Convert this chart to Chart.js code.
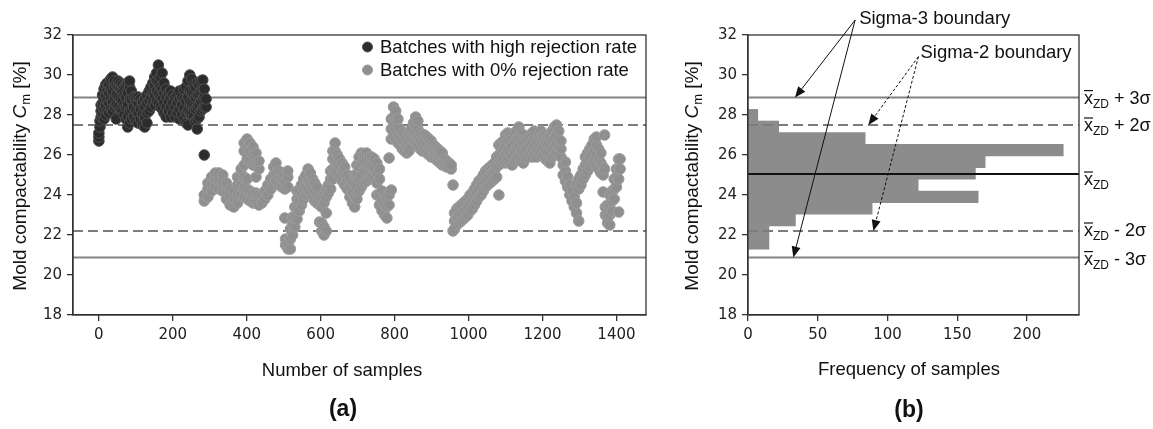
<!DOCTYPE html>
<html>
<head>
<meta charset="utf-8">
<script src="https://cdn.jsdelivr.net/npm/chart.js@4.4.1/dist/chart.umd.min.js"></script>
<style>
  html, body { margin: 0; padding: 0; background: #fff; }
  #wrap { position: relative; width: 1153px; height: 429px; overflow: hidden; }
  #scatterCanvas { position: absolute; left: 0; top: 0; }
  #histCanvas { position: absolute; left: 680px; top: 0; }
</style>
</head>
<body>
<div id="wrap">
  <canvas id="scatterCanvas" width="680" height="429"></canvas>
  <canvas id="histCanvas" width="473" height="429"></canvas>
</div>
<script>
// ---- values ----
// each row: [sample number, Cm values seen around that sample...]
const highRows = [
  [0, 26.7, 26.9, 27.1], [3, 27.4, 27.7], [6, 27.9, 28.2, 28.5], [10, 28.0, 28.6, 29.0],
  [14, 27.8, 28.3, 28.8, 29.3], [18, 28.0, 28.5, 29.0, 29.5], [22, 28.2, 28.7, 29.2, 29.6],
  [27, 28.1, 28.6, 29.1, 29.5], [32, 28.3, 28.8, 29.3, 29.8], [37, 28.2, 28.7, 29.2, 29.9],
  [42, 28.4, 28.9, 29.4, 29.7], [47, 27.8, 28.5, 29.0, 29.5], [52, 28.4, 28.9, 29.4, 29.7],
  [58, 28.3, 28.8, 29.3, 29.6], [63, 28.2, 28.7, 29.2, 29.5], [68, 28.0, 28.5, 29.0, 29.4],
  [73, 27.8, 28.4, 28.9, 29.5], [78, 27.4, 27.9, 28.5, 29.1, 29.6], [83, 27.6, 28.2, 28.8, 29.4, 29.7],
  [88, 27.8, 28.3, 28.8, 29.2], [94, 27.9, 28.4, 28.9], [100, 27.7, 28.2, 28.7, 28.9],
  [106, 27.6, 28.1, 28.6, 28.9], [112, 27.8, 28.3, 28.8], [118, 27.5, 28.0, 28.5, 28.7],
  [124, 27.4, 27.9, 28.4, 28.8], [130, 27.6, 28.1, 28.6, 29.0], [136, 28.2, 28.7, 29.2],
  [141, 28.4, 28.9, 29.4], [146, 28.6, 29.1, 29.6], [151, 28.5, 29.0, 29.5, 29.9],
  [156, 28.7, 29.2, 29.7, 30.1], [161, 28.6, 29.1, 29.6, 30.5], [166, 28.4, 28.9, 29.4, 29.9],
  [171, 28.3, 28.8, 29.3, 30.1], [176, 28.1, 28.6, 29.1, 29.6], [182, 27.9, 28.4, 28.9, 29.3],
  [188, 28.2, 28.7, 29.1], [194, 27.9, 28.4, 28.9, 29.2], [200, 28.1, 28.6, 29.0],
  [206, 27.9, 28.4, 28.9], [212, 28.1, 28.6, 29.0], [218, 27.8, 28.3, 28.8, 29.2],
  [224, 28.0, 28.5, 28.9], [230, 27.8, 28.3, 28.8, 29.3], [236, 27.6, 28.1, 28.7, 29.4],
  [241, 27.5, 28.2, 28.9, 29.7], [246, 28.1, 28.6, 29.2, 30.0], [251, 28.0, 28.5, 29.1, 29.8],
  [256, 27.9, 28.4, 29.0, 29.5], [261, 27.7, 28.3, 28.9, 29.4], [266, 27.3, 27.8, 28.4, 29.0, 29.6],
  [271, 27.9, 28.5, 29.0, 29.5], [276, 28.2, 28.7, 29.2, 29.7], [281, 28.3, 28.8, 29.3, 29.75],
  [285, 26.0, 28.4, 28.9, 29.3], [290, 28.4, 28.8]
];

const zeroRows = [
  [285, 23.7, 24.0], [295, 23.9, 24.3, 24.6], [305, 24.2, 24.6, 24.9], [315, 24.4, 24.8, 25.1],
  [325, 24.3, 24.7, 25.1], [335, 24.2, 24.6, 25.0], [345, 23.8, 24.2, 24.6], [355, 23.5, 23.9, 24.3],
  [365, 23.4, 23.8, 24.2], [375, 23.6, 24.0, 24.5, 24.9], [385, 24.0, 24.5, 25.0, 25.3],
  [393, 23.9, 24.4, 24.9, 25.5, 26.2, 26.6], [401, 23.8, 24.3, 24.8, 25.8, 26.4, 26.8],
  [409, 23.7, 24.2, 25.7, 26.2, 26.6], [417, 23.6, 24.1, 25.5, 26.0, 26.4],
  [425, 23.6, 24.1, 24.9, 25.6, 26.1], [433, 23.5, 24.0, 25.3, 25.7], [441, 23.6, 24.0],
  [449, 23.8, 24.2], [457, 24.0, 24.5], [465, 24.3, 24.8], [473, 24.5, 25.0, 25.4],
  [479, 24.7, 25.1, 25.6], [487, 24.5, 24.9, 25.2], [495, 24.4, 24.8, 25.1],
  [503, 22.85, 24.3, 24.7, 25.0], [505, 21.5, 21.8], [511, 24.4, 24.9, 25.2], [512, 21.3, 21.6],
  [518, 21.3, 21.8, 22.3], [524, 22.0, 22.5, 22.9], [530, 22.4, 22.9, 23.4],
  [536, 22.8, 23.3, 23.8, 24.2], [542, 23.2, 23.7, 24.2], [548, 23.5, 24.0, 24.5],
  [554, 23.8, 24.3, 24.8], [560, 24.0, 24.5, 25.0], [566, 24.2, 24.7, 25.3], [572, 24.1, 24.6, 25.1],
  [578, 23.9, 24.4, 24.8], [584, 23.7, 24.2, 24.6], [590, 23.6, 24.0, 24.4], [597, 22.65, 23.5, 23.9],
  [603, 22.2, 22.6, 23.4, 23.9], [609, 22.0, 22.4, 23.6, 24.0], [615, 22.2, 23.1, 23.9, 24.3],
  [621, 24.1, 24.5], [627, 24.3, 24.8, 25.2], [633, 24.8, 25.3, 25.8, 26.2],
  [639, 25.2, 25.7, 26.2, 26.6], [645, 25.1, 25.6, 26.0], [651, 24.9, 25.4, 25.8],
  [658, 24.7, 25.2, 25.6], [665, 24.5, 25.0, 25.4], [672, 24.3, 24.8, 25.0], [679, 23.9, 24.4, 24.8],
  [686, 23.6, 24.1, 24.6], [692, 23.4, 23.9, 24.5, 25.0], [698, 23.8, 24.4, 25.0, 25.5],
  [704, 24.2, 24.8, 25.4, 25.9], [710, 24.4, 25.0, 25.6, 26.1], [717, 24.6, 25.2, 25.7, 26.0],
  [724, 24.7, 25.3, 25.8, 26.1], [731, 24.8, 25.4, 25.9], [738, 24.9, 25.4, 25.9],
  [745, 24.8, 25.3, 25.8], [752, 24.0, 24.6, 25.1, 25.6], [759, 23.5, 24.0, 24.8, 25.3],
  [766, 23.2, 23.7, 24.2], [773, 23.0, 23.5, 24.0], [779, 22.85, 23.4, 23.9], [785, 23.5, 24.0, 25.85],
  [791, 24.25, 26.8, 27.3, 27.8], [797, 26.9, 27.4, 27.9, 28.4], [803, 26.8, 27.3, 27.8, 28.2],
  [809, 26.6, 27.0, 27.4, 27.8], [815, 26.5, 26.9, 27.3], [821, 26.3, 26.7, 27.1],
  [827, 26.2, 26.6, 27.0], [833, 26.1, 26.5, 26.9], [839, 26.2, 26.6, 27.0], [845, 26.5, 26.9, 27.3],
  [851, 26.7, 27.1, 27.6], [857, 26.6, 27.0, 27.5, 27.9], [863, 26.5, 26.9, 27.3, 27.7],
  [869, 26.3, 26.7, 27.1], [875, 26.2, 26.6, 27.0], [881, 26.3, 26.7, 27.0], [887, 26.1, 26.5, 26.9],
  [893, 26.0, 26.4, 26.8], [899, 25.9, 26.3, 26.7], [905, 25.9, 26.2, 26.5], [911, 25.8, 26.1, 26.4],
  [917, 25.7, 26.0, 26.3], [923, 25.6, 25.9, 26.2], [929, 25.5, 25.8, 26.1], [935, 25.5, 25.8],
  [941, 25.4, 25.7], [947, 25.4, 25.6], [953, 25.3, 25.5], [958, 24.5, 22.2],
  [962, 22.3, 22.7, 23.1], [968, 22.5, 22.9, 23.3], [974, 22.6, 23.0, 23.4], [980, 22.7, 23.1, 23.5],
  [986, 22.8, 23.2, 23.6], [992, 22.9, 23.3, 23.7], [998, 23.0, 23.4, 23.8], [1004, 23.2, 23.6, 24.0],
  [1010, 23.3, 23.7, 24.1], [1016, 23.5, 23.9, 24.3], [1022, 23.7, 24.1, 24.5], [1028, 23.9, 24.3, 24.7],
  [1034, 24.0, 24.4, 24.8], [1040, 24.2, 24.6, 25.0], [1046, 24.4, 24.8, 25.2], [1052, 24.5, 24.9, 25.3],
  [1058, 24.6, 25.0, 25.4], [1064, 24.7, 25.1, 25.5], [1070, 24.8, 25.2, 25.6], [1076, 24.9, 25.4, 25.9],
  [1082, 24.0, 25.5, 26.0, 26.5], [1088, 25.6, 26.1, 26.6], [1094, 25.7, 26.2, 26.7],
  [1100, 25.6, 26.1, 26.6, 27.0], [1106, 25.7, 26.2, 26.7, 27.1], [1112, 25.6, 26.1, 26.6, 27.0],
  [1118, 25.5, 26.0, 26.5, 26.9], [1124, 25.7, 26.2, 26.7, 27.1], [1130, 25.8, 26.3, 26.8, 27.2],
  [1136, 25.9, 26.4, 26.9, 27.4], [1142, 25.7, 26.2, 26.7, 27.1], [1148, 25.6, 26.1, 26.6, 27.0],
  [1154, 25.8, 26.3, 26.8], [1160, 25.9, 26.4, 26.8], [1166, 26.0, 26.5, 26.9],
  [1172, 25.9, 26.3, 26.7, 27.1], [1178, 26.0, 26.4, 26.8, 27.2], [1184, 25.9, 26.3, 26.7],
  [1190, 26.0, 26.4, 26.8, 27.0], [1196, 26.1, 26.5, 26.9, 27.2], [1202, 26.0, 26.4, 26.8, 27.0],
  [1208, 25.8, 26.2, 26.6, 27.0], [1214, 25.7, 26.1, 26.5, 26.9], [1220, 25.6, 26.0, 26.4, 26.9],
  [1226, 25.9, 26.3, 26.8, 27.2], [1232, 26.0, 26.4, 26.9, 27.4], [1238, 26.1, 26.5, 27.0, 27.5],
  [1244, 26.0, 26.4, 26.8, 27.2], [1250, 25.9, 26.3, 26.7], [1256, 25.0, 25.5],
  [1262, 24.7, 25.2, 25.65], [1268, 24.4, 24.9], [1274, 24.0, 24.5], [1280, 23.7, 24.2],
  [1286, 23.4, 23.9], [1292, 23.1, 23.6, 24.5], [1298, 22.7, 24.3, 24.8], [1304, 24.5, 25.0],
  [1310, 24.8, 25.3], [1316, 25.0, 25.5, 25.9], [1322, 25.2, 25.7, 26.1], [1328, 25.4, 25.9, 26.3],
  [1334, 25.6, 26.1, 26.5], [1340, 25.7, 26.2, 26.8], [1346, 25.5, 26.0, 26.5, 26.9],
  [1352, 25.3, 25.8, 26.3], [1358, 25.1, 25.6, 26.1], [1364, 24.15, 25.0, 25.4], [1368, 25.3, 27.0],
  [1370, 23.0, 23.4], [1376, 22.6, 23.0, 23.5], [1382, 22.5, 23.0, 23.5, 24.0],
  [1388, 23.2, 23.7, 24.2], [1394, 23.8, 24.3, 24.8], [1400, 24.4, 24.9, 25.3],
  [1406, 23.15, 24.8, 25.3, 25.8], [1410, 25.3, 25.8]
];

// histogram of the 0% rejection batches (bin centres in Cm %, counts)
const binCentres = [21.58, 22.16, 22.74, 23.33, 23.91, 24.49, 25.08, 25.66, 26.24, 26.83, 27.41, 27.99];
const binCounts = [15, 15, 34, 89, 165, 122, 163, 170, 226, 84, 22, 7];

const sigma3Lines = [28.87, 20.87];
const sigma2Lines = [27.5, 22.2];
const meanLine = 25.05;

const cmTicks = [18, 20, 22, 24, 26, 28, 30, 32];
const sampleTicks = [0, 200, 400, 600, 800, 1000, 1200, 1400];
const freqTicks = [0, 50, 100, 150, 200];

const limitValues = [28.87, 27.5, 25.05, 22.2, 20.87];
const limitSuffix = [' + 3σ', ' + 2σ', '', ' - 2σ', ' - 3σ'];

// annotation arrows in histogram data coords: [count, Cm]
const sigma3Start = [76.8, 32.75];
const sigma3Tips = [[33.7, 28.87], [32.5, 20.87]];
const sigma2Start = [122.2, 30.92];
const sigma2Tips = [[86.3, 27.5], [89.9, 22.2]];

// ---- helpers ----
const SANS = '"Liberation Sans", Arial, sans-serif';
const TICKFONT = { family: '"DejaVu Sans", sans-serif', size: 15 };

function rowsToPoints(rows) {
  let pts = [];
  for (let r of rows) {
    for (let i = 1; i < r.length; i++) pts.push({ x: r[0], y: r[i] });
  }
  return pts;
}

function setTicks(list) {
  return function (scale) { scale.ticks = list.map(v => ({ value: v })); };
}

function hLine(ctx, area, y, color, width, dash) {
  ctx.save();
  ctx.strokeStyle = color;
  ctx.lineWidth = width;
  ctx.setLineDash(dash);
  ctx.beginPath();
  ctx.moveTo(area.left, y);
  ctx.lineTo(area.right, y);
  ctx.stroke();
  ctx.restore();
}

function drawLimits(chart, withMean) {
  const { ctx, chartArea } = chart;
  const ys = chart.scales.y;
  for (let v of sigma3Lines) hLine(ctx, chartArea, ys.getPixelForValue(v), '#828282', 2, []);
  for (let v of sigma2Lines) hLine(ctx, chartArea, ys.getPixelForValue(v), '#7c7c7c', 2, [10, 5]);
  if (withMean) hLine(ctx, chartArea, ys.getPixelForValue(meanLine), '#111', 2, []);
}

function drawBox(chart) {
  const { ctx, chartArea: a } = chart;
  ctx.save();
  ctx.strokeStyle = '#333';
  ctx.lineWidth = 1.3;
  ctx.strokeRect(a.left, a.top, a.right - a.left, a.bottom - a.top);
  ctx.restore();
}

function drawYTitle(ctx, x, yCenter) {
  const parts = [
    ['Mold compactability ', '19px ' + SANS, 0],
    ['C', 'italic 19px ' + SANS, 0],
    ['m', '13px ' + SANS, 4],
    [' [%]', '19px ' + SANS, 0]
  ];
  ctx.save();
  ctx.translate(x, yCenter);
  ctx.rotate(-Math.PI / 2);
  ctx.fillStyle = '#111';
  ctx.textBaseline = 'alphabetic';
  let total = 0;
  for (let p of parts) { ctx.font = p[1]; total += ctx.measureText(p[0]).width; }
  let pos = -total / 2;
  for (let p of parts) {
    ctx.font = p[1];
    ctx.fillText(p[0], pos, p[2]);
    pos += ctx.measureText(p[0]).width;
  }
  ctx.restore();
}

function drawCentered(ctx, text, font, x, y) {
  ctx.save();
  ctx.font = font;
  ctx.fillStyle = '#111';
  ctx.textAlign = 'center';
  ctx.textBaseline = 'alphabetic';
  ctx.fillText(text, x, y);
  ctx.restore();
}

function arrow(ctx, x0, y0, x1, y1, dash) {
  const ang = Math.atan2(y1 - y0, x1 - x0);
  const len = 11, half = 4.5;
  const bx = x1 - len * Math.cos(ang), by = y1 - len * Math.sin(ang);
  ctx.save();
  ctx.strokeStyle = '#111';
  ctx.fillStyle = '#111';
  ctx.lineWidth = 1;
  ctx.setLineDash(dash);
  ctx.beginPath();
  ctx.moveTo(x0, y0);
  ctx.lineTo(bx, by);
  ctx.stroke();
  ctx.setLineDash([]);
  ctx.beginPath();
  ctx.moveTo(x1, y1);
  ctx.lineTo(bx + half * Math.sin(ang), by - half * Math.cos(ang));
  ctx.lineTo(bx - half * Math.sin(ang), by + half * Math.cos(ang));
  ctx.closePath();
  ctx.fill();
  ctx.restore();
}

function axisOpts(min, max, ticks, fitKey, fitSize) {
  return {
    type: 'linear', min: min, max: max,
    afterBuildTicks: setTicks(ticks),
    afterFit: function (scale) { scale[fitKey] = fitSize; },
    grid: { display: true, drawOnChartArea: false, drawTicks: true, tickLength: 6, color: '#333', lineWidth: 1.3 },
    border: { display: true, color: '#333', width: 1.3 },
    ticks: { font: TICKFONT, color: '#222', padding: 5, maxRotation: 0, autoSkip: false,
             callback: v => String(v) }
  };
}

// ---- chart (a) ----
const scatterPlugin = {
  id: 'scatterExtras',
  beforeDatasetsDraw(chart) { drawLimits(chart, false); },
  afterDraw(chart) {
    const ctx = chart.ctx;
    drawBox(chart);
    drawYTitle(ctx, 26, 176);
    drawCentered(ctx, 'Number of samples', '18.5px ' + SANS, 342, 376);
    drawCentered(ctx, '(a)', 'bold 23px ' + SANS, 343, 416);
    // legend
    const items = chart.data.datasets;
    const rows = [47, 70];
    items.forEach((ds, i) => {
      ctx.save();
      ctx.beginPath();
      ctx.arc(367.5, rows[i], 5, 0, Math.PI * 2);
      ctx.fillStyle = ds.backgroundColor;
      ctx.fill();
      ctx.lineWidth = 1;
      ctx.strokeStyle = ds.borderColor;
      ctx.stroke();
      ctx.font = '18.5px ' + SANS;
      ctx.fillStyle = '#111';
      ctx.textBaseline = 'middle';
      ctx.fillText(ds.label, 380, rows[i] + 1);
      ctx.restore();
    });
  }
};

new Chart(document.getElementById('scatterCanvas'), {
  type: 'scatter',
  data: {
    datasets: [
      { label: 'Batches with high rejection rate', data: rowsToPoints(highRows),
        backgroundColor: '#2c2c2c', borderColor: '#4f4f4f', borderWidth: 1, pointRadius: 5.3 },
      { label: 'Batches with 0% rejection rate', data: rowsToPoints(zeroRows),
        backgroundColor: '#8f8f8f', borderColor: '#9c9c9c', borderWidth: 1, pointRadius: 5.3 }
    ]
  },
  options: {
    responsive: false, animation: false, devicePixelRatio: 1,
    layout: { padding: { left: 0, right: 34, top: 35, bottom: 0 } },
    plugins: { legend: { display: false }, tooltip: { enabled: false } },
    scales: {
      x: axisOpts(-70, 1480, sampleTicks, 'height', 114),
      y: axisOpts(18, 32, cmTicks, 'width', 73)
    }
  },
  plugins: [scatterPlugin]
});

// ---- chart (b) ----
const histPlugin = {
  id: 'histExtras',
  afterDatasetsDraw(chart) { drawLimits(chart, true); },
  afterDraw(chart) {
    const ctx = chart.ctx;
    const xs = chart.scales.x, ys = chart.scales.y;
    drawBox(chart);
    drawYTitle(ctx, 18, 176);
    drawCentered(ctx, 'Frequency of samples', '18.5px ' + SANS, 229, 375);
    drawCentered(ctx, '(b)', 'bold 23px ' + SANS, 229, 417);

    // right-hand labels
    const offs = [6, 6, 11, 5, 7];
    limitValues.forEach((v, i) => {
      const y = ys.getPixelForValue(v) + offs[i];
      let x = chart.chartArea.right + 5;
      ctx.save();
      ctx.fillStyle = '#111';
      ctx.strokeStyle = '#111';
      ctx.textBaseline = 'alphabetic';
      ctx.font = '18px ' + SANS;
      const wx = ctx.measureText('x').width;
      ctx.fillText('x', x, y);
      ctx.lineWidth = 1.2;
      ctx.beginPath();
      ctx.moveTo(x, y - 13);
      ctx.lineTo(x + wx, y - 13);
      ctx.stroke();
      x += wx;
      ctx.font = '12px ' + SANS;
      ctx.fillText('ZD', x, y + 4);
      x += ctx.measureText('ZD').width;
      ctx.font = '18px ' + SANS;
      ctx.fillText(limitSuffix[i], x, y);
      ctx.restore();
    });

    // annotations
    ctx.save();
    ctx.font = '18.5px ' + SANS;
    ctx.fillStyle = '#111';
    ctx.fillText('Sigma-3 boundary', xs.getPixelForValue(sigma3Start[0]) + 4, 24);
    ctx.fillText('Sigma-2 boundary', xs.getPixelForValue(sigma2Start[0]) + 2, 58);
    ctx.restore();
    const s3x = xs.getPixelForValue(sigma3Start[0]), s3y = ys.getPixelForValue(sigma3Start[1]);
    for (let t of sigma3Tips) arrow(ctx, s3x, s3y, xs.getPixelForValue(t[0]), ys.getPixelForValue(t[1]), []);
    const s2x = xs.getPixelForValue(sigma2Start[0]), s2y = ys.getPixelForValue(sigma2Start[1]);
    for (let t of sigma2Tips) arrow(ctx, s2x, s2y, xs.getPixelForValue(t[0]), ys.getPixelForValue(t[1]), [3, 2]);
  }
};

const yHist = axisOpts(18, 32, cmTicks, 'width', 68);
yHist.offset = false;
yHist.grid.offset = false;

new Chart(document.getElementById('histCanvas'), {
  type: 'bar',
  data: {
    datasets: [{
      data: binCentres.map((c, i) => ({ x: binCounts[i], y: c })),
      backgroundColor: '#8c8c8c', borderWidth: 0,
      barPercentage: 1, categoryPercentage: 1
    }]
  },
  options: {
    indexAxis: 'y',
    responsive: false, animation: false, devicePixelRatio: 1,
    layout: { padding: { left: 0, right: 74, top: 35, bottom: 0 } },
    plugins: { legend: { display: false }, tooltip: { enabled: false } },
    scales: {
      x: axisOpts(0, 237.3, freqTicks, 'height', 114),
      y: yHist
    }
  },
  plugins: [histPlugin]
});
</script>
</body>
</html>
